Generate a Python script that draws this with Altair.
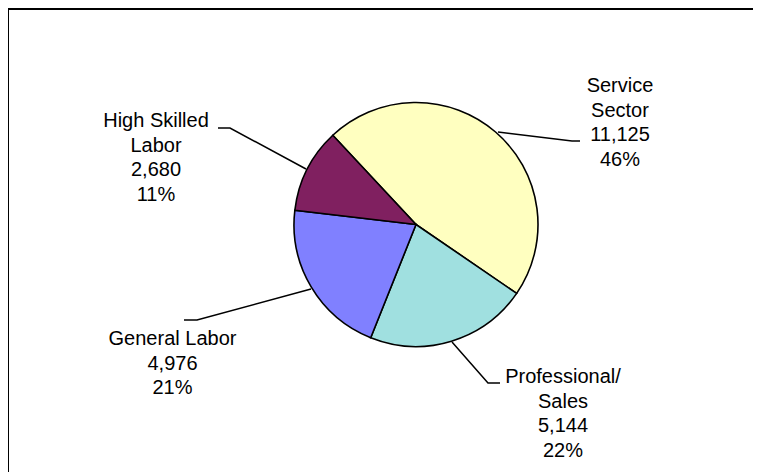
import math
import altair as alt
import pandas as pd

# ---- data ----
categories = ["Service Sector", "Professional/Sales", "General Labor", "High Skilled Labor"]
label_lines = [["Service", "Sector"], ["Professional/", "Sales"], ["General Labor"], ["High Skilled", "Labor"]]
values = [11125, 5144, 4976, 2680]
colors = ["#FFFFC0", "#A0E0E0", "#8080FF", "#802060"]

# ---- layout (pixels inside the chart) ----
W, H = 745, 464
CX, CY, R = 408, 216.5, 122
START = 2 * math.pi - math.radians(43)

label_pos = {
    "Service Sector": (612, 84),
    "Professional/Sales": (555, 375),
    "General Labor": (164.5, 337),
    "High Skilled Labor": (148, 119),
}
leader_pts = {
    "Service Sector": [(490, 124), (564, 133), (572, 133)],
    "Professional/Sales": [(444, 334), (480, 375), (492, 375)],
    "General Labor": [(303, 281), (189, 312), (176, 312)],
    "High Skilled Labor": [(298, 161), (222, 120), (210, 120)],
}

total = sum(values)
pie_df = pd.DataFrame({"category": categories, "value": values, "order": list(range(len(values)))})

lab_rows = []
for c, lines, v in zip(categories, label_lines, values):
    txt = "\n".join(lines + [f"{v:,}", f"{round(v / total * 100)}%"])
    x, y = label_pos[c]
    lab_rows.append({"category": c, "x": x, "y": y, "text": txt})
lab_df = pd.DataFrame(lab_rows)

lead_rows = []
for c in categories:
    for i, (x, y) in enumerate(leader_pts[c]):
        lead_rows.append({"category": c, "seq": i, "x": x, "y": y})
lead_df = pd.DataFrame(lead_rows)

xs = alt.Scale(domain=[0, W], nice=False, zero=False)
ys = alt.Scale(domain=[0, H], nice=False, zero=False, reverse=True)

pie = alt.Chart(pie_df).mark_arc(outerRadius=R, stroke="black", strokeWidth=1.6).encode(
    theta=alt.Theta("value:Q", stack=True, scale=alt.Scale(range=[START, START + 2 * math.pi])),
    color=alt.Color("category:N", scale=alt.Scale(domain=categories, range=colors), legend=None),
    order=alt.Order("order:Q"),
    x=alt.value(CX),
    y=alt.value(CY),
)

leaders = alt.Chart(lead_df).mark_line(color="black", strokeWidth=1.5).encode(
    x=alt.X("x:Q", scale=xs, axis=None),
    y=alt.Y("y:Q", scale=ys, axis=None),
    detail="category:N",
    order="seq:Q",
)

labels = alt.Chart(lab_df).mark_text(
    align="center", baseline="alphabetic", fontSize=20, font="Liberation Sans",
    lineBreak="\n", lineHeight=24.5, color="black",
).encode(
    x=alt.X("x:Q", scale=xs, axis=None),
    y=alt.Y("y:Q", scale=ys, axis=None),
    text="text:N",
)

one = pd.DataFrame({"k": [0]})
border_top = alt.Chart(one).mark_rule(color="black", strokeWidth=2).encode(
    x=alt.value(0), x2=alt.value(W), y=alt.value(1)
)
border_left = alt.Chart(one).mark_rule(color="black", strokeWidth=2).encode(
    x=alt.value(0), y=alt.value(0), y2=alt.value(H)
)

chart = alt.layer(border_top, border_left, pie, leaders, labels).properties(
    width=W, height=H, padding=0, autosize=alt.AutoSizeParams(type="none"), background="white"
).configure_view(stroke="transparent")

chart.save("out.html", embed_options={"renderer": "svg", "actions": False})
